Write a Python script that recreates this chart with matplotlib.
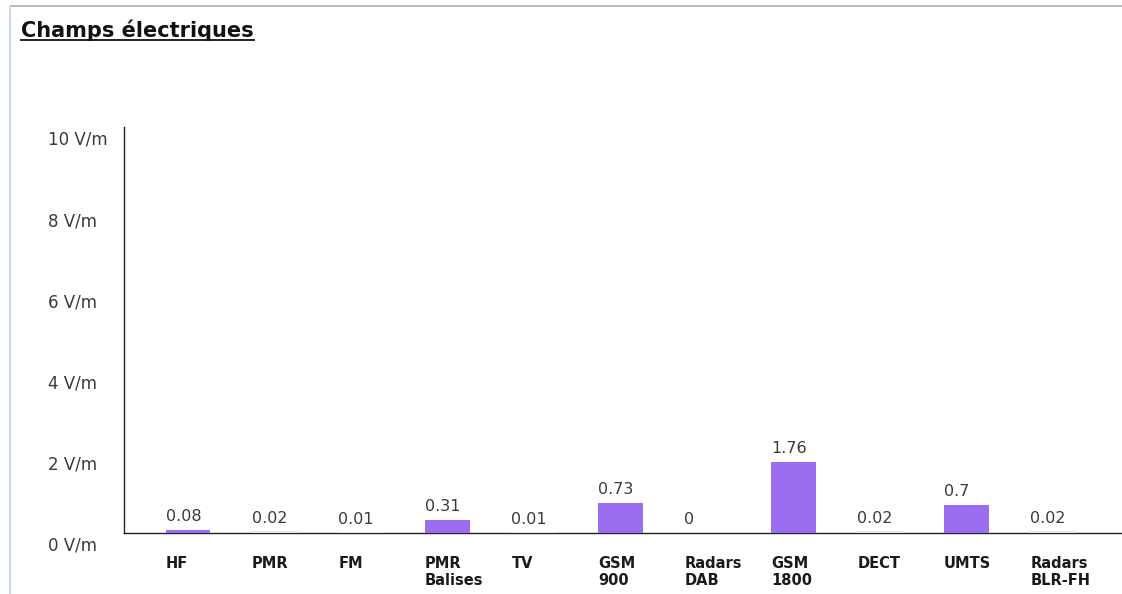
import matplotlib
matplotlib.use("Agg")
import matplotlib.pyplot as plt
import matplotlib.transforms as mtransforms
from matplotlib.lines import Line2D

categories = ["HF", "PMR", "FM", "PMR\nBalises", "TV", "GSM\n900", "Radars\nDAB",
              "GSM\n1800", "DECT", "UMTS", "Radars\nBLR-FH"]
values = [0.08, 0.02, 0.01, 0.31, 0.01, 0.73, 0, 1.76, 0.02, 0.7, 0.02]
value_labels = ["0.08", "0.02", "0.01", "0.31", "0.01", "0.73", "0", "1.76", "0.02", "0.7", "0.02"]
ytick_values = [0, 2, 4, 6, 8, 10]
ytick_labels = ["0 V/m", "2 V/m", "4 V/m", "6 V/m", "8 V/m", "10 V/m"]
title = "Champs électriques"

plt.rcParams['font.family'] = ['DejaVu Sans']

W, H = 1122, 594
fig = plt.figure(figsize=(W / 100, H / 100), dpi=100)
fig.patch.set_facecolor("white")

ax = fig.add_axes([124 / W, (H - 533) / H, (W - 124) / W, 406 / H])
ax.set_facecolor("none")

bar_w = 0.52
xs = list(range(len(categories)))
lws = [1.5 if 0 < v < 0.05 else 0 for v in values]
bars = ax.bar(xs, values, width=bar_w, color="#9b6df1", edgecolor="#e6e4f0",
              linewidth=lws, zorder=3)

ax.set_xlim(-0.74, 10.8)
ax.set_ylim(0, 10)

for s in ["top", "right"]:
    ax.spines[s].set_visible(False)
ax.spines["left"].set_color("#222222")
ax.spines["bottom"].set_color("#222222")
ax.spines["left"].set_linewidth(1.0)
ax.spines["bottom"].set_linewidth(1.0)
ax.spines["bottom"].set_zorder(1)
ax.set_xticks([])
ax.set_yticks([])

# y tick labels (left aligned, slightly below their values)
ylab_tr = mtransforms.offset_copy(
    mtransforms.blended_transform_factory(fig.transFigure, ax.transData),
    fig=fig, x=0, y=-4, units="dots")
for v, lab in zip(ytick_values, ytick_labels):
    ax.text(48 / W, v, lab, transform=ylab_tr, ha="left", va="top",
            fontsize=12, color="#3a3a3a", clip_on=False)

# value labels above bars, left aligned at bar left edge
val_tr = mtransforms.offset_copy(ax.transData, fig=fig, x=0, y=9, units="dots")
for x, v, lab in zip(xs, values, value_labels):
    ax.text(x - bar_w / 2, v, lab, transform=val_tr, ha="left", va="baseline",
            fontsize=11.5, color="#3a3a3a", clip_on=False)

# category labels below axis
cat_tr = mtransforms.offset_copy(ax.transData, fig=fig, x=0, y=-23, units="dots")
for x, lab in zip(xs, categories):
    ax.text(x - bar_w / 2, 0, lab, transform=cat_tr, ha="left", va="top",
            fontsize=10.5, fontweight="bold", color="#1a1a1a", linespacing=1.2,
            clip_on=False)

# title
t = fig.text(21 / W, 1 - 37 / H, title, ha="left", va="baseline",
             fontsize=15, fontweight="bold", color="#111111")

# border lines
fig.add_artist(Line2D([10 / W, 1], [1 - 6 / H, 1 - 6 / H], transform=fig.transFigure,
                      color="#a8b0b8", lw=1.2))
fig.add_artist(Line2D([10 / W, 10 / W], [0, 1 - 6 / H], transform=fig.transFigure,
                      color="#c8d8ee", lw=1.5))

fig.canvas.draw()
bb = t.get_window_extent(fig.canvas.get_renderer())
uy = bb.y0 + 1
fig.add_artist(Line2D([bb.x0, bb.x1], [uy, uy], transform=mtransforms.IdentityTransform(),
                      color="#111111", lw=1.3))

fig.savefig("out.png", dpi=100)
